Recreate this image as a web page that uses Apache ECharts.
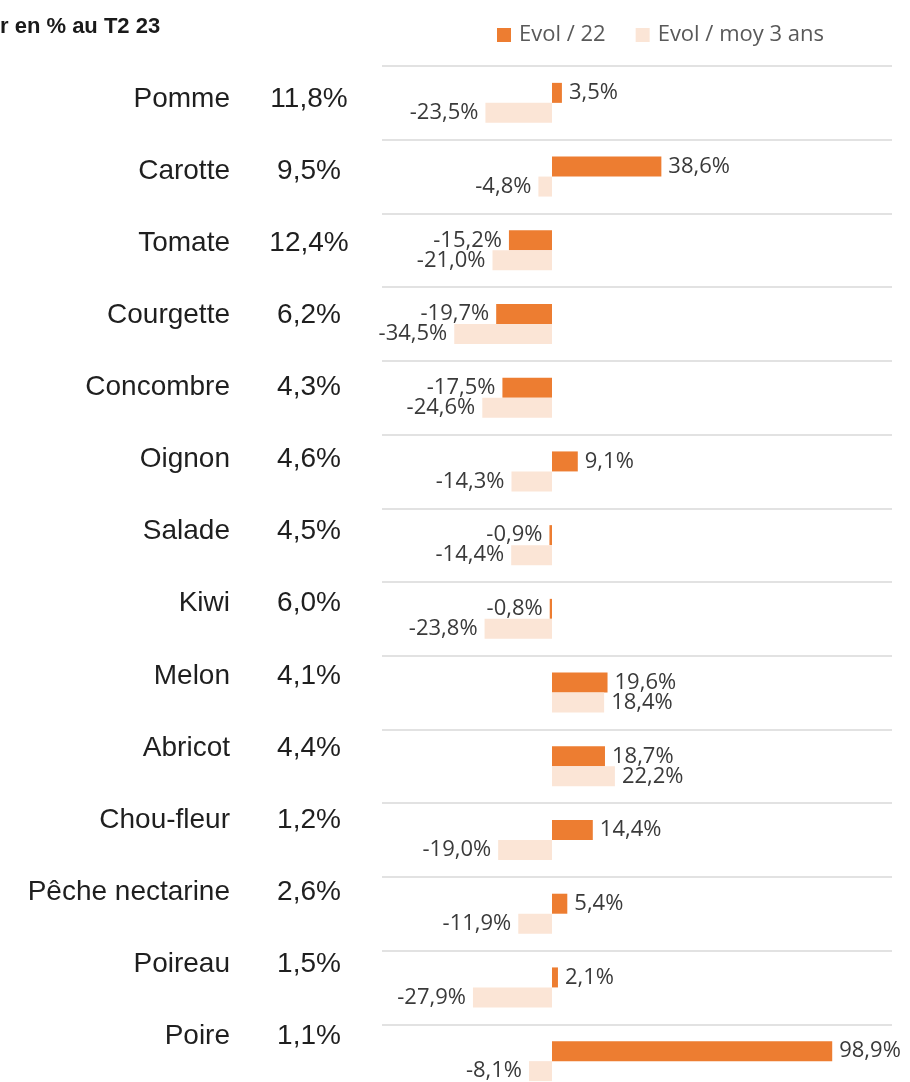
<!DOCTYPE html>
<html>
<head>
<meta charset="utf-8">
<script src="https://cdn.jsdelivr.net/npm/echarts@6/dist/echarts.min.js"></script>
<style>
  html, body { margin: 0; padding: 0; background: #fff; overflow: hidden; }
  #chart { width: 910px; height: 1098px; }
</style>
</head>
<body>
<div id="chart"></div>
<script>
// produits et part en %
var categories = ['Pomme', 'Carotte', 'Tomate', 'Courgette', 'Concombre', 'Oignon', 'Salade',
    'Kiwi', 'Melon', 'Abricot', 'Chou-fleur', 'Pêche nectarine', 'Poireau', 'Poire'];
var shares = [11.8, 9.5, 12.4, 6.2, 4.3, 4.6, 4.5, 6.0, 4.1, 4.4, 1.2, 2.6, 1.5, 1.1];

// evolutions
var evol22 = [3.5, 38.6, -15.2, -19.7, -17.5, 9.1, -0.9, -0.8, 19.6, 18.7, 14.4, 5.4, 2.1, 98.9];
var evolMoy3 = [-23.5, -4.8, -21.0, -34.5, -24.6, -14.3, -14.4, -23.8, 18.4, 22.2, -19.0, -11.9, -27.9, -8.1];

var seriesNames = ['Evol / 22', 'Evol / moy 3 ans'];

function pct(v) {
    return v.toFixed(1).replace('.', ',') + '%';
}

function withLabelSide(values) {
    return values.map(function (v) {
        return {value: v, label: {position: v < 0 ? 'left' : 'right'}};
    });
}

var labelStyle = {
    show: true,
    distance: 7,
    fontFamily: 'Open Sans',
    fontSize: 22,
    color: '#3a3a3a',
    formatter: function (p) { return pct(p.value); }
};

var rowLabel = {
    interval: 0,
    fontFamily: 'Liberation Sans',
    fontSize: 28,
    color: '#1f1f1f'
};

var chart = echarts.init(document.getElementById('chart'));
chart.setOption({
    animation: false,
    title: {
        text: 'r en % au T2 23',
        left: 0,
        top: 16,
        padding: 0,
        textStyle: {
            fontFamily: 'Liberation Sans',
            fontWeight: 'bold',
            fontSize: 22,
            color: '#1a1a1a'
        }
    },
    legend: {
        data: seriesNames,
        left: 492,
        top: 19,
        itemWidth: 14,
        itemHeight: 14,
        itemGap: 30,
        icon: 'rect',
        textStyle: {
            fontFamily: 'Open Sans',
            fontSize: 22,
            color: '#595959',
            padding: [0, 0, 0, 3]
        }
    },
    // grille des barres + grille du tableau de gauche (pas un peu plus serre)
    grid: [
        {left: 382, top: 66, right: 18, bottom: 0},
        {left: 382, top: 63, right: 18, bottom: 25.6}
    ],
    xAxis: [
        {type: 'value', min: -60, max: 120, show: false},
        {type: 'value', gridIndex: 1, min: 0, max: 1, show: false}
    ],
    yAxis: [
        {
            type: 'category',
            inverse: true,
            data: categories,
            axisLine: {show: false},
            axisTick: {show: false},
            axisLabel: {show: false},
            splitLine: {
                show: true,
                interval: 0,
                lineStyle: {color: '#d9d9d9', width: 1.5}
            }
        },
        {
            type: 'category',
            gridIndex: 1,
            inverse: true,
            data: categories,
            axisLine: {show: false},
            axisTick: {show: false},
            splitLine: {show: false},
            axisLabel: Object.assign({margin: 152}, rowLabel)
        },
        {
            type: 'category',
            gridIndex: 1,
            inverse: true,
            position: 'left',
            data: categories,
            axisLine: {show: false},
            axisTick: {show: false},
            splitLine: {show: false},
            axisLabel: Object.assign({
                margin: 73,
                align: 'center',
                formatter: function (val, idx) { return pct(shares[idx]); }
            }, rowLabel)
        }
    ],
    series: [
        {
            name: seriesNames[0],
            type: 'bar',
            barWidth: 20,
            barGap: 0,
            itemStyle: {color: '#ed7d31'},
            label: labelStyle,
            data: withLabelSide(evol22)
        },
        {
            name: seriesNames[1],
            type: 'bar',
            barWidth: 20,
            barGap: 0,
            itemStyle: {color: '#fbe5d6'},
            label: labelStyle,
            data: withLabelSide(evolMoy3)
        }
    ]
});
</script>
</body>
</html>
